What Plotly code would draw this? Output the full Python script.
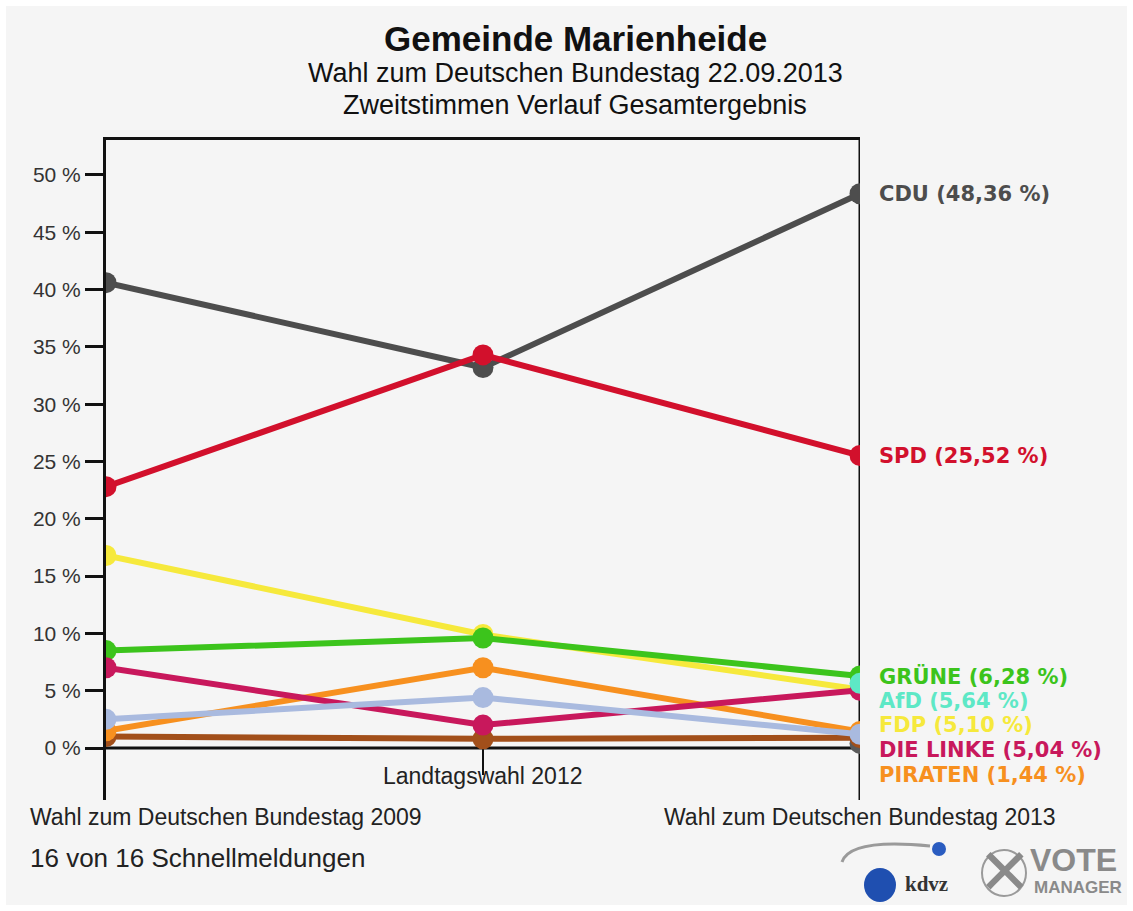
import plotly.graph_objects as go

# ---------------- data ----------------
elections = ["Wahl zum Deutschen Bundestag 2009", "Landtagswahl 2012", "Wahl zum Deutschen Bundestag 2013"]
x_idx = [0, 1, 2]

cdu = [40.6, 33.2, 48.36]
spd = [22.8, 34.3, 25.52]
fdp = [16.8, 9.9, 5.10]
gruene = [8.5, 9.6, 6.28]
linke = [7.0, 2.0, 5.04]
piraten = [1.5, 7.0, 1.44]
sonstige_a = [2.5, 4.4, 1.2]
sonstige_b = [1.0, 0.8, 0.9]
afd = [None, None, 5.64]
sonstige_c = [None, None, 0.4]

y_ticks = [0, 5, 10, 15, 20, 25, 30, 35, 40, 45, 50]
y_tick_labels = [f"{v} %" for v in y_ticks]

# (name, values, colour, labelled)
series = [
    ("CDU", cdu, "#4d4d4d", True),
    ("SPD", spd, "#d2102c", True),
    ("Sonstige C", sonstige_c, "#5a5a5a", False),
    ("FDP", fdp, "#f6e93c", True),
    ("GRÜNE", gruene, "#3cc41c", True),
    ("Sonstige B", sonstige_b, "#a24f1a", False),
    ("PIRATEN", piraten, "#f7901f", True),
    ("DIE LINKE", linke, "#c8185c", True),
    ("Sonstige A", sonstige_a, "#a9badf", False),
    ("AfD", afd, "#5ee8c6", True),
]

fig = go.Figure()
for name, vals, col, _ in series:
    fig.add_trace(go.Scatter(
        x=x_idx, y=vals, mode="lines+markers", name=name,
        line=dict(color=col, width=6),
        marker=dict(color=col, size=21),
        connectgaps=False, hoverinfo="name+y", showlegend=False,
    ))

# ---------------- helpers: pixel -> paper ----------------
plot_left, plot_right, plot_top, plot_bottom = 106, 860, 140, 800
def py(p):
    return (plot_bottom - p) / (plot_bottom - plot_top)
def px(p):
    return (p - plot_left) / (plot_right - plot_left)

# ---------------- right-hand labels (stacked to avoid overlap) ----------------
labelled = [(n, v[2], c) for n, v, c, lab in series if lab]
labelled.sort(key=lambda t: -t[1])
gap = 2.15
prev = None
for name, val, col in labelled:
    ypos = val if prev is None else min(val, prev - gap)
    prev = ypos
    txt = f"{name} ({val:.2f} %)".replace(".", ",")
    fig.add_annotation(
        x=px(877), xref="paper", y=ypos, yref="y", text=f"<b>{txt}</b>",
        showarrow=False, xanchor="left", yanchor="middle",
        font=dict(family="DejaVu Sans", size=21, color=col),
    )

# ---------------- x category labels ----------------
xfont = dict(family="Liberation Sans", size=23, color="#222")
fig.add_annotation(x=px(28), xref="paper", y=py(817), yref="paper", text=elections[0],
                   showarrow=False, xanchor="left", yanchor="middle", font=xfont)
fig.add_annotation(x=1, xref="x", y=py(776), yref="paper", text=elections[1],
                   showarrow=False, xanchor="center", yanchor="middle", font=xfont)
fig.add_annotation(x=2, xref="x", y=py(817), yref="paper", text=elections[2],
                   showarrow=False, xanchor="center", yanchor="middle", font=xfont)

# ---------------- titles ----------------
titles = [
    ("<b>Gemeinde Marienheide</b>", 38, 35),
    ("Wahl zum Deutschen Bundestag 22.09.2013", 73, 27),
    ("Zweitstimmen Verlauf Gesamtergebnis", 105, 27),
]
for txt, ypx, sz in titles:
    fig.add_annotation(x=px(575), xref="paper", y=py(ypx), yref="paper", text=txt,
                       showarrow=False, xanchor="center", yanchor="middle",
                       font=dict(family="Liberation Sans", size=sz, color="#111"))

fig.add_annotation(x=px(28), xref="paper", y=py(858), yref="paper", text="16 von 16 Schnellmeldungen",
                   showarrow=False, xanchor="left", yanchor="middle",
                   font=dict(family="Liberation Sans", size=26, color="#222"))

# ---------------- logo (approximation) ----------------
fig.add_annotation(x=px(1005), xref="paper", y=py(872), yref="paper",
                   text="<b>✕</b>", showarrow=False, xanchor="center", yanchor="middle",
                   font=dict(family="DejaVu Sans", size=64, color="#8a8a8a"))
fig.add_annotation(x=px(1028), xref="paper", y=py(860), yref="paper",
                   text="<b>VOTE</b>", showarrow=False, xanchor="left", yanchor="middle",
                   font=dict(family="Liberation Sans", size=32, color="#8a8a8a"))
fig.add_annotation(x=px(1032), xref="paper", y=py(887), yref="paper",
                   text="<b>MANAGER</b>", showarrow=False, xanchor="left", yanchor="middle",
                   font=dict(family="Liberation Sans", size=17, color="#8a8a8a"))
fig.add_annotation(x=px(903), xref="paper", y=py(884), yref="paper",
                   text="<b>kdvz</b>", showarrow=False, xanchor="left", yanchor="middle",
                   font=dict(family="Liberation Serif", size=21, color="#333"))

shapes = []
shapes.append(dict(type="circle", xref="paper", yref="paper",
                   x0=px(864), x1=px(896), y0=py(902), y1=py(868),
                   fillcolor="#1f4fb0", line=dict(width=0)))
shapes.append(dict(type="circle", xref="paper", yref="paper",
                   x0=px(932), x1=px(946), y0=py(856), y1=py(842),
                   fillcolor="#2a5cc0", line=dict(width=0)))
shapes.append(dict(type="path", xref="paper", yref="paper",
                   path=f"M {px(930)},{py(846)} Q {px(850)},{py(838)} {px(842)},{py(862)}",
                   line=dict(color="#9a9a9a", width=3)))
shapes.append(dict(type="circle", xref="paper", yref="paper",
                   x0=px(982), x1=px(1026), y0=py(896), y1=py(850),
                   line=dict(color="#9a9a9a", width=2)))

# ---------------- axis frame pieces ----------------
ymin, ymax = -4.537, 53.05
shapes.append(dict(type="line", xref="x", yref="y", x0=0, x1=2, y0=0, y1=0,
                   line=dict(color="#111", width=3), layer="below"))
shapes.append(dict(type="line", xref="x", yref="y", x0=1, x1=1, y0=0, y1=-2.36,
                   line=dict(color="#111", width=2), layer="below"))
shapes.append(dict(type="line", xref="x", yref="paper", x0=2, x1=2, y0=0, y1=1,
                   line=dict(color="#111", width=3), layer="below"))
# white outer border
shapes.append(dict(type="rect", xref="paper", yref="paper",
                   x0=px(0), x1=px(1133), y0=py(911), y1=py(0),
                   line=dict(color="#ffffff", width=12), fillcolor="rgba(0,0,0,0)"))

fig.update_layout(
    width=1133, height=911,
    margin=dict(l=plot_left, r=1133 - plot_right, t=plot_top, b=911 - plot_bottom),
    paper_bgcolor="#f5f5f5", plot_bgcolor="#f5f5f5",
    shapes=shapes,
    xaxis=dict(range=[0, 2], showgrid=False, zeroline=False, showticklabels=False, ticks="",
               showline=True, side="top", linecolor="#111", linewidth=3),
    yaxis=dict(range=[ymin, ymax], tickvals=y_ticks, ticktext=y_tick_labels,
               showgrid=False, zeroline=False, showline=True, linecolor="#111", linewidth=3,
               ticks="outside", ticklen=18, tickwidth=3, tickcolor="#111",
               tickfont=dict(family="Liberation Sans", size=21, color="#333")),
    showlegend=False,
)

fig.write_html("out.html")
